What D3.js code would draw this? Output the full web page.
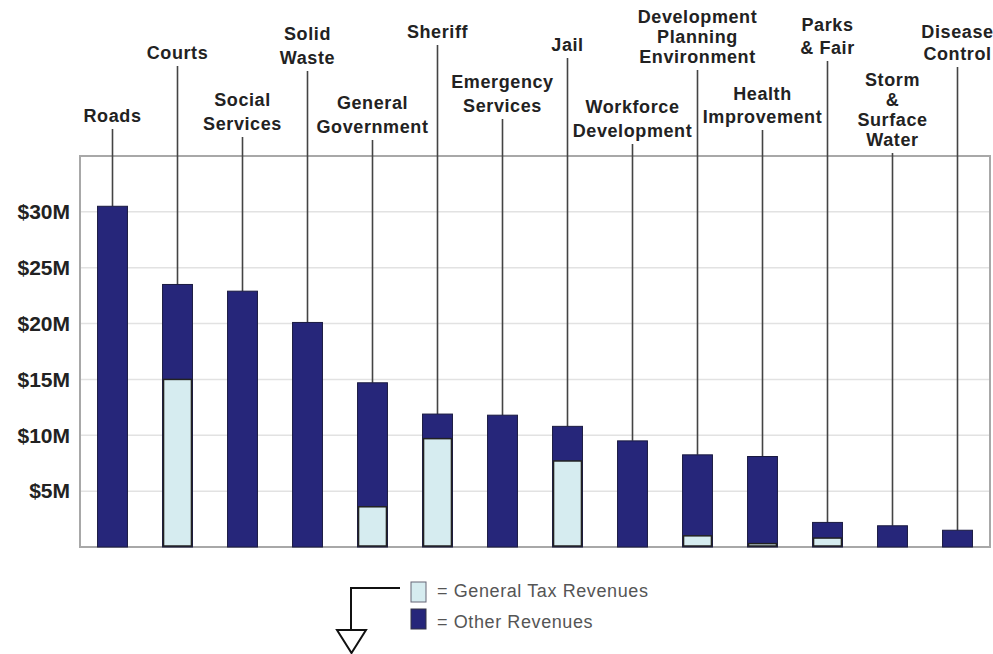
<!DOCTYPE html>
<html>
<head>
<meta charset="utf-8">
<script src="https://cdn.jsdelivr.net/npm/d3@7"></script>
<style>
  body { margin: 0; background: #fff; }
  svg { display: block; font-family: "Liberation Sans", Arial, sans-serif; }
</style>
</head>
<body>
<div id="chart"></div>
<script>
// Departments and revenues (millions of dollars)
const departments = ["Roads", "Courts", "Social Services", "Solid Waste", "General Government",
  "Sheriff", "Emergency Services", "Jail", "Workforce Development",
  "Development Planning Environment", "Health Improvement", "Parks & Fair",
  "Storm & Surface Water", "Disease Control"];
const labelLines = [["Roads"], ["Courts"], ["Social", "Services"], ["Solid", "Waste"],
  ["General", "Government"], ["Sheriff"], ["Emergency", "Services"], ["Jail"],
  ["Workforce", "Development"], ["Development", "Planning", "Environment"],
  ["Health", "Improvement"], ["Parks", "& Fair"], ["Storm", "&", "Surface", "Water"],
  ["Disease", "Control"]];
const generalTax = [0, 15, 0, 0, 3.6, 9.7, 0, 7.7, 0, 1.0, 0.3, 0.8, 0, 0];
const totalRevenue = [30.5, 23.5, 22.9, 20.1, 14.7, 11.9, 11.8, 10.8, 9.5, 8.25, 8.1, 2.2, 1.9, 1.5];
const yTicks = [5, 10, 15, 20, 25, 30];
const legendLabels = ["= General Tax Revenues", "= Other Revenues"];

// layout of the staggered labels above the plot
const labelTop = [116, 53, 100, 34, 103, 32, 82, 45, 107, 17, 94, 25, 80, 32];
const labelGap = [24, 24, 24, 24, 24, 24, 24, 24, 24, 20, 23, 23, 20, 22];

const W = 993, H = 654;
const plot = { left: 80, right: 990, top: 156, bottom: 547 };
const darkBlue = "#26267a", lightBlue = "#d6ecf0";

const svg = d3.select("#chart").append("svg")
  .attr("width", W).attr("height", H);

const x = d3.scaleBand()
  .domain(departments)
  .range([plot.left, plot.right])
  .paddingInner(0.54)
  .paddingOuter(0.27);

const y = d3.scaleLinear()
  .domain([0, 35])
  .range([plot.bottom, plot.top]);

// gridlines
svg.append("g")
  .selectAll("line")
  .data(yTicks)
  .enter().append("line")
  .attr("x1", plot.left).attr("x2", plot.right)
  .attr("y1", d => y(d)).attr("y2", d => y(d))
  .style("stroke", "#e2e2e2")
  .style("stroke-width", 1.5);

// plot frame
svg.append("rect")
  .attr("x", plot.left).attr("y", plot.top)
  .attr("width", plot.right - plot.left)
  .attr("height", plot.bottom - plot.top)
  .style("fill", "none")
  .style("stroke", "#a8a8a8")
  .style("stroke-width", 2);

// y axis labels
const yAxis = d3.axisLeft(y)
  .tickValues(yTicks)
  .tickSize(0)
  .tickPadding(10)
  .tickFormat(d => "$" + d + "M");
svg.append("g")
  .attr("transform", "translate(" + plot.left + ",0)")
  .call(yAxis)
  .call(g => g.select(".domain").remove())
  .selectAll("text")
  .style("font-size", "21px")
  .style("font-weight", "bold")
  .style("fill", "#222");

// leader lines from labels down to bar tops
svg.append("g")
  .selectAll("line")
  .data(departments)
  .enter().append("line")
  .attr("x1", d => x(d) + x.bandwidth() / 2)
  .attr("x2", d => x(d) + x.bandwidth() / 2)
  .attr("y1", (d, i) => labelTop[i] + (labelLines[i].length - 1) * labelGap[i] + 13)
  .attr("y2", (d, i) => y(totalRevenue[i]))
  .style("stroke", "#444")
  .style("stroke-width", 1.6);

// category labels
const labels = svg.append("g")
  .selectAll("text")
  .data(departments)
  .enter().append("text")
  .attr("text-anchor", "middle")
  .attr("x", d => x(d) + x.bandwidth() / 2)
  .style("font-size", "18px")
  .style("font-weight", "bold")
  .style("letter-spacing", "0.6px")
  .style("fill", "#222");

labels.each(function (d, i) {
  d3.select(this).selectAll("tspan")
    .data(labelLines[i])
    .enter().append("tspan")
    .attr("x", x(d) + x.bandwidth() / 2)
    .attr("y", (t, j) => labelTop[i] + j * labelGap[i])
    .attr("dy", "0.35em")
    .text(t => t);
});

// other revenue (full bar) then general tax portion on top of its base
svg.append("g")
  .selectAll("rect")
  .data(departments)
  .enter().append("rect")
  .attr("x", d => x(d))
  .attr("width", x.bandwidth())
  .attr("y", (d, i) => y(totalRevenue[i]))
  .attr("height", (d, i) => y(0) - y(totalRevenue[i]))
  .style("fill", darkBlue)
  .style("stroke", "#1a1a40")
  .style("stroke-width", 1);

svg.append("g")
  .selectAll("rect")
  .data(departments.filter((d, i) => generalTax[i] > 0))
  .enter().append("rect")
  .attr("x", d => x(d) + 1)
  .attr("width", x.bandwidth() - 2)
  .attr("y", d => y(generalTax[departments.indexOf(d)]))
  .attr("height", d => y(0) - y(generalTax[departments.indexOf(d)]) - 1)
  .style("fill", lightBlue)
  .style("stroke", "#222")
  .style("stroke-width", 1.5);

// legend
const legend = svg.append("g");
const swatchColors = [lightBlue, darkBlue];
legend.selectAll("rect")
  .data(legendLabels)
  .enter().append("rect")
  .attr("x", 411)
  .attr("y", (d, i) => 582 + i * 27)
  .attr("width", 15)
  .attr("height", 20)
  .style("fill", (d, i) => swatchColors[i])
  .style("stroke", (d, i) => i === 0 ? "#667" : "#334")
  .style("stroke-width", 1);

legend.selectAll("text")
  .data(legendLabels)
  .enter().append("text")
  .attr("x", 437)
  .attr("y", (d, i) => 591 + i * 31)
  .attr("dy", "0.35em")
  .style("font-size", "18px")
  .style("letter-spacing", "0.6px")
  .style("fill", "#555")
  .text(d => d);

// bracket arrow pointing down
legend.append("path")
  .attr("d", "M400,588 H351 V630")
  .style("fill", "none")
  .style("stroke", "#111")
  .style("stroke-width", 2);
legend.append("path")
  .attr("d", "M337,630 H366 L351.5,653 Z")
  .style("fill", "#fff")
  .style("stroke", "#111")
  .style("stroke-width", 2);
</script>
</body>
</html>
